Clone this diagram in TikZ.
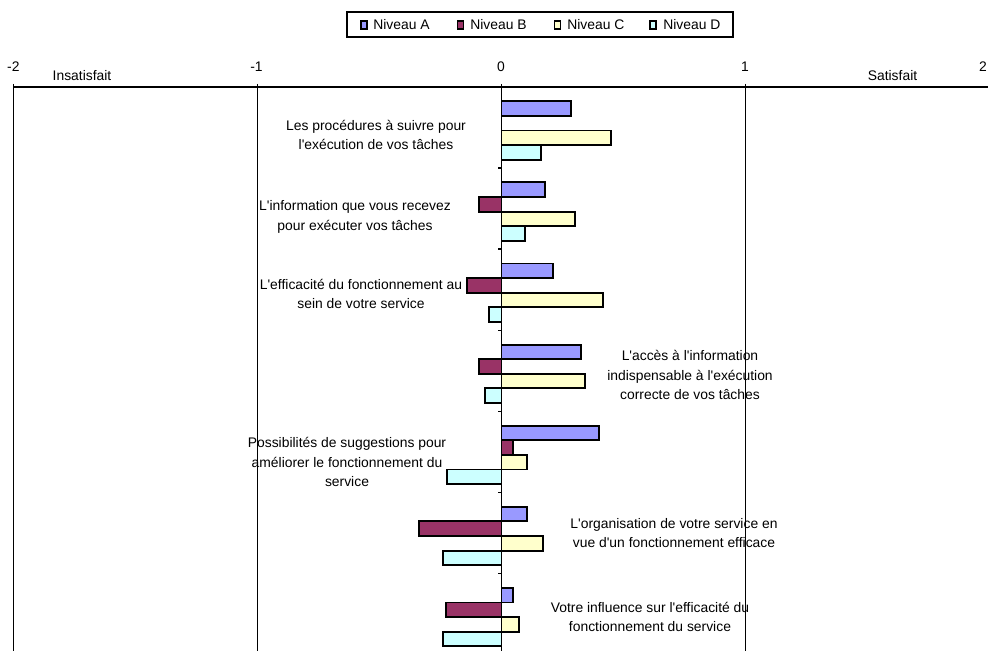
\documentclass[tikz,border=0pt]{standalone}
\usepackage{fontspec}
\setmainfont{Liberation Sans}[Ligatures=TeXOff]
\usepackage{tikz}
\definecolor{nivA}{RGB}{153,153,255}
\definecolor{nivB}{RGB}{153,51,102}
\definecolor{nivC}{RGB}{255,255,204}
\definecolor{nivD}{RGB}{204,255,255}

\begin{document}
\begin{tikzpicture}[x=0.02cm, y=-0.02cm,
    lbl/.style={font=\fontsize{7.9}{11}\selectfont, align=center, inner sep=0pt},
    bar/.style={draw=black, line width=1.1pt},
    gridline/.style={line width=0.7pt},
    legmark/.style={draw=black, line width=1pt, minimum width=0.12cm, minimum height=0.17cm, inner sep=0pt}]
    \useasboundingbox (0,0) rectangle (988,651);

    \node[draw, line width=1pt, minimum width=7.72cm, minimum height=0.5cm] (legend) at (540,24.5) {};
    \node[legmark, fill=nivA] (mkA) at (363.7,25) {};
    \node[legmark, fill=nivB] (mkB) at (460.5,25) {};
    \node[legmark, fill=nivC] (mkC) at (557.5,25) {};
    \node[legmark, fill=nivD] (mkD) at (653,25) {};
    \node[lbl, anchor=west] (legA) at (373,25) {Niveau A};
    \node[lbl, anchor=west] (legB) at (470,25) {Niveau B};
    \node[lbl, anchor=west] (legC) at (567,25) {Niveau C};
    \node[lbl, anchor=west] (legD) at (663,25) {Niveau D};

    \node[lbl] (tm2) at (13.3,67) {-2};
    \node[lbl] (tm1) at (256.5,67) {-1};
    \node[lbl] (t0) at (501,67) {0};
    \node[lbl] (t1) at (745,67) {1};
    \node[lbl] (t2) at (983,67) {2};
    \node[lbl] (insat) at (82,76) {Insatisfait};
    \node[lbl] (sat) at (892.5,76) {Satisfait};

    \foreach \gx in {13.3,257.2,745.7}
        \draw[gridline] (\gx,84) -- (\gx,651);
    \draw[line width=1pt] (13.3,87) -- (988,87);

    \begin{scope}[shift={(501.5,0)}, x=4.882cm]
        \foreach \a/\b/\c/\d [count=\i from 0] in {
            0.285/0/0.449/0.162,
            0.178/-0.092/0.301/0.096,
            0.211/-0.141/0.416/-0.051,
            0.326/-0.092/0.342/-0.068,
            0.399/0.047/0.104/-0.223,
            0.104/-0.338/0.170/-0.240,
            0.047/-0.227/0.072/-0.240}{
            \pgfmathsetmacro\yy{101.3+81.1*\i}
            \filldraw[bar, fill=nivA] (0,\yy) rectangle (\a,\yy+14.6);
            \filldraw[bar, fill=nivB] (0,\yy+14.6) rectangle (\b,\yy+29.2);
            \filldraw[bar, fill=nivC] (0,\yy+29.2) rectangle (\c,\yy+43.8);
            \filldraw[bar, fill=nivD] (0,\yy+43.8) rectangle (\d,\yy+58.4);
        }
    \end{scope}

    \draw[line width=1pt] (501.5,84) -- (501.5,651);
    \foreach \k in {1,...,6}
        \draw[line width=0.8pt] (501.5,87+81.1*\k) -- ++(-4,0);

    \node[lbl] (cat1) at (376,135) {Les procédures à suivre pour\\l'exécution de vos tâches};
    \node[lbl] (cat2) at (355,217) {L'information que vous recevez\\pour exécuter vos tâches};
    \node[lbl] (cat3) at (361,294) {L'efficacité du fonctionnement au\\sein de votre service};
    \node[lbl] (cat4) at (690,375) {L'accès à l'information\\indispensable à l'exécution\\correcte de vos tâches};
    \node[lbl] (cat5) at (347,462) {Possibilités de suggestions pour\\améliorer le fonctionnement du\\service};
    \node[lbl] (cat6) at (674,533) {L'organisation de votre service en\\vue d'un fonctionnement efficace};
    \node[lbl] (cat7) at (650,617) {Votre influence sur l'efficacité du\\fonctionnement du service};
\end{tikzpicture}
\end{document}
